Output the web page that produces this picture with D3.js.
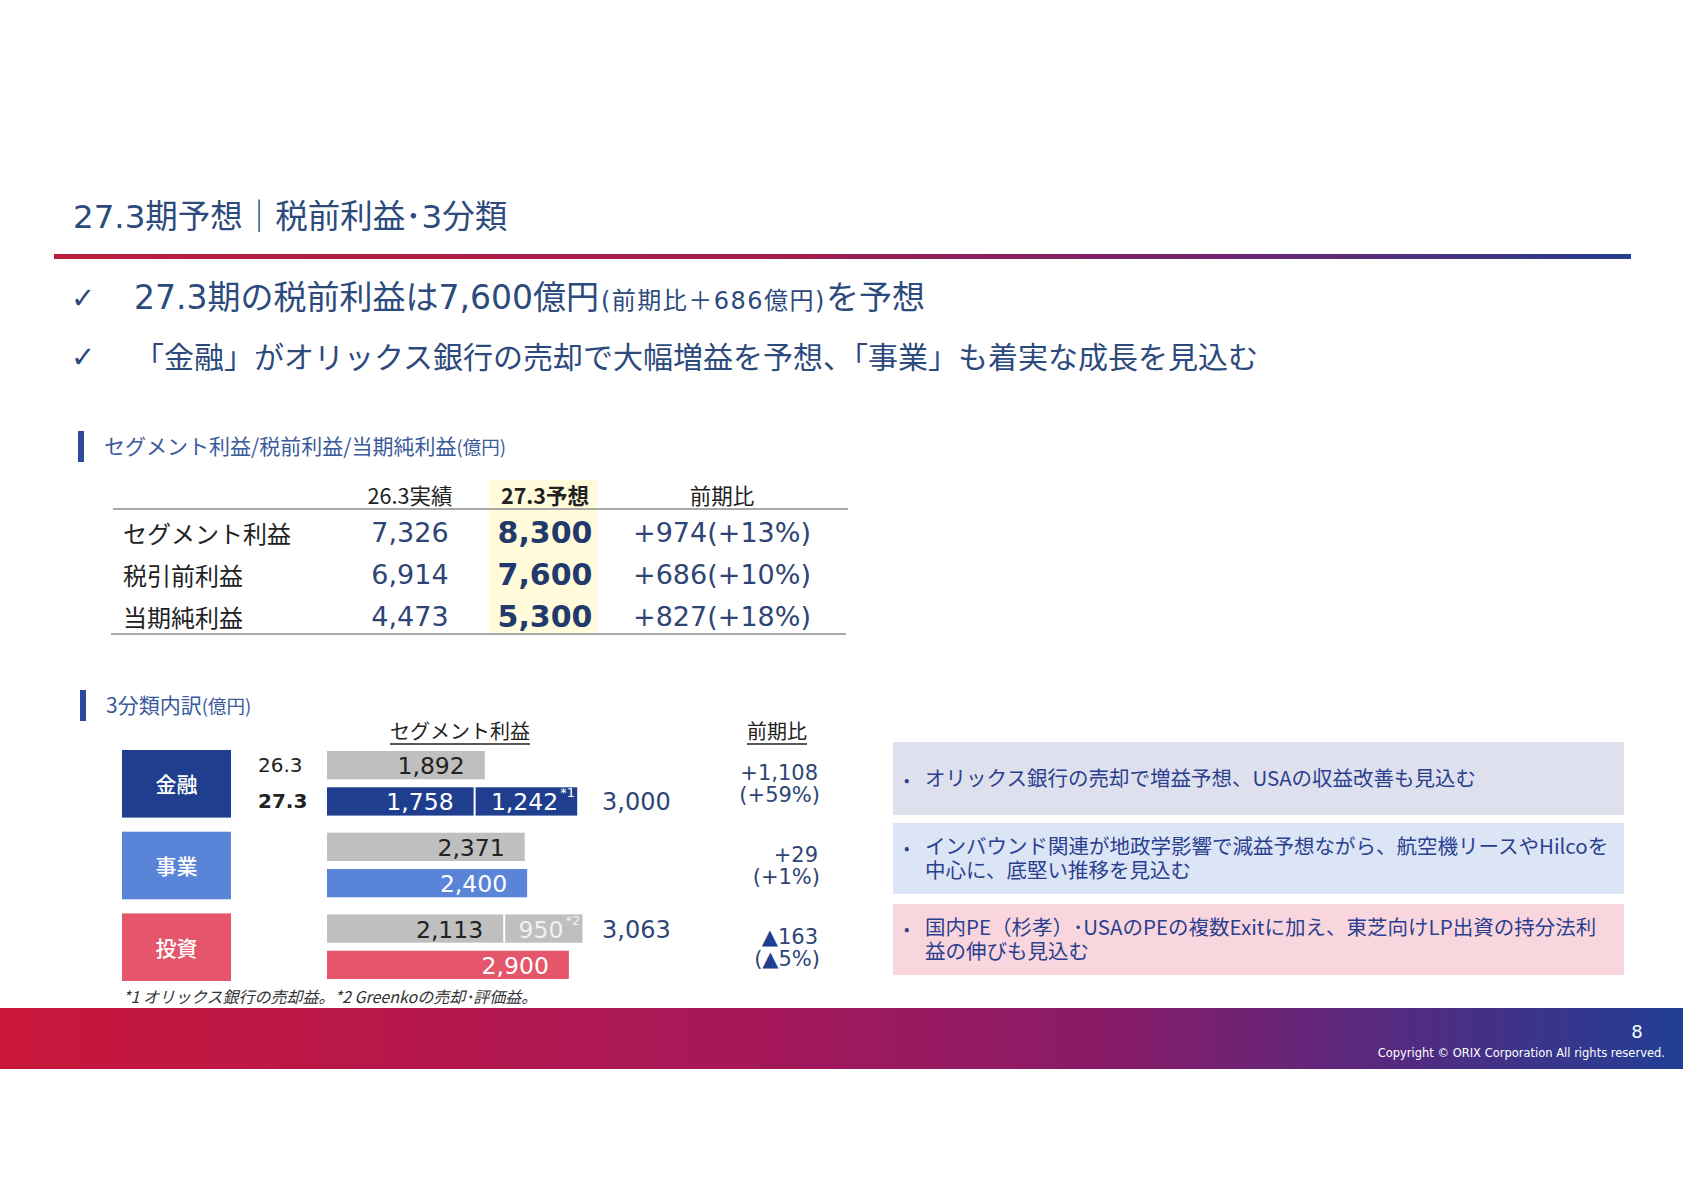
<!DOCTYPE html>
<html>
<head>
<meta charset="utf-8">
<script src="https://cdn.jsdelivr.net/npm/d3@7"></script>
<style>
  body { margin: 0; background: #fff; }
  svg { display: block; }
</style>
</head>
<body>
<div id="chart"></div>
<script>
// ---- data ----
const titleText = '27.3期予想｜税前利益･3分類';
const headlines = [
  [['27.3期の税前利益は7,600億円', 'big'], ['(前期比＋686億円)', 'small'], ['を予想', 'big']],
  [['「金融」がオリックス銀行の売却で大幅増益を予想、「事業」も着実な成長を見込む', 'big2']]
];

const tableRows = ['セグメント利益', '税引前利益', '当期純利益'];
const tableCols = ['26.3実績', '27.3予想', '前期比'];
const actual263 = [7326, 6914, 4473];
const forecast273 = [8300, 7600, 5300];
const yoyDiff = [974, 686, 827];
const yoyPct = [13, 10, 18];

const segments = ['金融', '事業', '投資'];
const years = ['26.3', '27.3'];
const seg263 = [1892, 2371, 2113];
const seg263Extra = [0, 0, 950];     // *2 Greenko
const seg273 = [1758, 2400, 2900];
const seg273Extra = [1242, 0, 0];    // *1 オリックス銀行売却益
const segYoyDiff = [1108, 29, -163];
const segYoyPct = [59, 1, -5];

const comments = [
  ['オリックス銀行の売却で増益予想、USAの収益改善も見込む'],
  ['インバウンド関連が地政学影響で減益予想ながら、航空機リースやHilcoを', '中心に、底堅い推移を見込む'],
  ['国内PE（杉孝）･USAのPEの複数Exitに加え、東芝向けLP出資の持分法利', '益の伸びも見込む']
];
const footnote = '*1 オリックス銀行の売却益。*2 Greenkoの売却･評価益。';

// ---- setup ----
const W = 1683, H = 1190;
const NUM = '"DejaVu Sans", "Noto Sans CJK JP", sans-serif';
const JP = '"Noto Sans CJK JP", "DejaVu Sans", sans-serif';
const navy = '#2c4a7c';
const valColor = '#2e4575';
const segColors = ['#1f3f8e', '#5a84d8', '#e5566b'];
const boxColors = ['#dee1ed', '#dce5f6', '#f9d6dd'];
const fmt = d3.format(',');

const svg = d3.select('#chart').append('svg')
    .attr('width', W)
    .attr('height', H)
    .style('font-family', NUM);

const defs = svg.append('defs');
const topGrad = defs.append('linearGradient').attr('id', 'topGrad');
[['0%', '#bb1e3c'], ['45%', '#a21d4c'], ['75%', '#6e2470'], ['100%', '#253f8c']]
  .forEach(s => topGrad.append('stop').attr('offset', s[0]).attr('stop-color', s[1]));
const footGrad = defs.append('linearGradient').attr('id', 'footGrad');
[['0%', '#c9173a'], ['45%', '#a5185a'], ['66%', '#881b68'], ['82%', '#57297f'], ['100%', '#213f95']]
  .forEach(s => footGrad.append('stop').attr('offset', s[0]).attr('stop-color', s[1]));

// ---- title & headlines ----
svg.append('text')
    .attr('x', 73).attr('y', 228)
    .attr('font-size', 32.5)
    .attr('fill', navy)
    .text(titleText);

svg.append('rect')
    .attr('x', 54).attr('y', 254)
    .attr('width', 1577).attr('height', 5)
    .attr('fill', 'url(#topGrad)');

const headY = [309, 368];
const partSize = {big: 33, small: 24, big2: 30};
headlines.forEach((parts, i) => {
  svg.append('text')
      .attr('x', 71).attr('y', headY[i] - 1)
      .attr('font-size', 29)
      .attr('fill', navy)
      .text('✓');
  const t = svg.append('text')
      .attr('x', 134).attr('y', headY[i])
      .attr('fill', navy);
  parts.forEach(p => {
    t.append('tspan')
        .attr('font-size', partSize[p[1]])
        .attr('letter-spacing', p[1] === 'small' ? 1.5 : 0)
        .attr('dx', p[1] === 'small' ? 2 : 0)
        .text(p[0]);
  });
});

// ---- section headers ----
function sectionHeader(x, y, main, unit) {
  svg.append('rect')
      .attr('x', x).attr('y', y)
      .attr('width', 6).attr('height', 31)
      .attr('fill', '#2b4a9b');
  const t = svg.append('text')
      .attr('x', x + 26).attr('y', y + 23)
      .attr('fill', '#3a5a9c');
  t.append('tspan').attr('font-size', 21).attr('font-family', JP).text(main);
  t.append('tspan').attr('font-size', 18.5).attr('font-family', JP).text(unit);
}
sectionHeader(78, 431, 'セグメント利益/税前利益/当期純利益', '(億円)');
sectionHeader(80, 690, '3分類内訳', '(億円)');

// ---- summary table ----
const colX = d3.scaleOrdinal().domain(tableCols).range([410, 545, 722]);
const rowY = d3.scaleBand().domain(tableRows).range([512, 637]);

svg.append('rect')
    .attr('x', 489).attr('y', 480)
    .attr('width', 108).attr('height', 154)
    .attr('fill', '#fffbdb');

svg.selectAll('.colhead')
    .data(tableCols)
  .enter().append('text')
    .attr('class', 'colhead')
    .attr('x', d => colX(d))
    .attr('y', 494)
    .attr('text-anchor', 'middle')
    .attr('dominant-baseline', 'central')
    .attr('font-size', 21.5)
    .attr('font-family', JP)
    .attr('font-weight', (d, i) => i === 1 ? 'bold' : 'normal')
    .attr('fill', '#222')
    .text(d => d);

svg.append('line')
    .attr('x1', 113).attr('x2', 848)
    .attr('y1', 509).attr('y2', 509)
    .attr('stroke', '#a9a9a9').attr('stroke-width', 2);
svg.append('line')
    .attr('x1', 111).attr('x2', 846)
    .attr('y1', 634).attr('y2', 634)
    .attr('stroke', '#a9a9a9').attr('stroke-width', 2);

const rows = svg.selectAll('.trow')
    .data(tableRows)
  .enter().append('g')
    .attr('class', 'trow')
    .attr('transform', d => `translate(0,${rowY(d) + rowY.bandwidth() / 2})`);

rows.append('text')
    .attr('x', 123)
    .attr('dominant-baseline', 'central')
    .attr('font-size', 24)
    .attr('font-family', JP)
    .attr('fill', '#222')
    .text(d => d);

rows.append('text')
    .attr('x', colX(tableCols[0]))
    .attr('text-anchor', 'middle')
    .attr('dominant-baseline', 'central')
    .attr('font-size', 27)
    .attr('fill', valColor)
    .text((d, i) => fmt(actual263[i]));

rows.append('text')
    .attr('x', colX(tableCols[1]))
    .attr('text-anchor', 'middle')
    .attr('dominant-baseline', 'central')
    .attr('font-size', 30)
    .attr('font-weight', 'bold')
    .attr('fill', '#22396b')
    .text((d, i) => fmt(forecast273[i]));

rows.append('text')
    .attr('x', colX(tableCols[2]))
    .attr('text-anchor', 'middle')
    .attr('dominant-baseline', 'central')
    .attr('font-size', 27)
    .attr('fill', valColor)
    .text((d, i) => `+${fmt(yoyDiff[i])}(+${yoyPct[i]}%)`);

// ---- segment bars ----
const x = d3.scaleLinear().domain([0, 3000]).range([327, 577.2]);
const yGroup = d3.scaleBand().domain(segments).range([750, 980]).paddingInner(0.185);
const yYear = d3.scaleBand().domain(years).range([1, yGroup.bandwidth() - 1]).paddingInner(0.22);

function underlined(text, cx, y) {
  const t = svg.append('text')
      .attr('x', cx).attr('y', y)
      .attr('text-anchor', 'middle')
      .attr('font-size', 20)
      .attr('font-family', JP)
      .attr('fill', '#222')
      .text(text);
  const w = t.node().getComputedTextLength();
  svg.append('line')
      .attr('x1', cx - w / 2).attr('x2', cx + w / 2)
      .attr('y1', y + 5).attr('y2', y + 5)
      .attr('stroke', '#222').attr('stroke-width', 1.3);
}
underlined('セグメント利益', 460, 739);
underlined('前期比', 777, 739);

const groups = svg.selectAll('.seg')
    .data(segments)
  .enter().append('g')
    .attr('class', 'seg')
    .attr('transform', d => `translate(0,${yGroup(d)})`);

groups.append('rect')
    .attr('x', 122)
    .attr('width', 109)
    .attr('height', yGroup.bandwidth() + 1)
    .attr('fill', (d, i) => segColors[i]);

groups.append('text')
    .attr('x', 176.5)
    .attr('y', yGroup.bandwidth() / 2)
    .attr('text-anchor', 'middle')
    .attr('dominant-baseline', 'central')
    .attr('font-size', 21)
    .attr('font-family', JP)
    .attr('font-weight', 500)
    .attr('fill', '#fff')
    .text(d => d);

// year labels on the first group only
groups.filter((d, i) => i === 0).selectAll('.yr')
    .data(years)
  .enter().append('text')
    .attr('class', 'yr')
    .attr('x', 258)
    .attr('y', d => yYear(d) + yYear.bandwidth() / 2)
    .attr('dominant-baseline', 'central')
    .attr('font-size', 20)
    .attr('font-weight', (d, i) => i === 1 ? 'bold' : 'normal')
    .attr('fill', '#222')
    .text(d => d);

groups.each(function(seg, i) {
  const g = d3.select(this);
  const bars = [
    {year: years[0], base: seg263[i], extra: seg263Extra[i], color: '#bfbfbf', text: '#222', extraText: '#f2f2f2', mark: '*2'},
    {year: years[1], base: seg273[i], extra: seg273Extra[i], color: segColors[i], text: '#fff', extraText: '#fff', mark: '*1'}
  ];
  bars.forEach(b => {
    const by = yYear(b.year), bh = yYear.bandwidth();
    const cy = by + bh / 2;
    g.append('rect')
        .attr('x', x(0)).attr('y', by)
        .attr('width', x(b.base) - x(0)).attr('height', bh)
        .attr('fill', b.color);
    g.append('text')
        .attr('x', x(b.base) - 20)
        .attr('y', cy + 1)
        .attr('text-anchor', 'end')
        .attr('dominant-baseline', 'central')
        .attr('font-size', 23.5)
        .attr('fill', b.text)
        .text(fmt(b.base));
    if (b.extra > 0) {
      const x0 = x(b.base), x1 = x(b.base + b.extra);
      g.append('rect')
          .attr('x', x0 + 2).attr('y', by)
          .attr('width', x1 - x0 - 2).attr('height', bh)
          .attr('fill', b.color);
      g.append('text')
          .attr('x', x1 - 19)
          .attr('y', cy + 1)
          .attr('text-anchor', 'end')
          .attr('dominant-baseline', 'central')
          .attr('font-size', 23.5)
          .attr('fill', b.extraText)
          .text(fmt(b.extra));
      g.append('text')
          .attr('x', x1 - 17)
          .attr('y', cy - 4)
          .attr('font-size', 13)
          .attr('fill', b.extraText)
          .text(b.mark);
      g.append('text')
          .attr('x', 602)
          .attr('y', cy + 1)
          .attr('dominant-baseline', 'central')
          .attr('font-size', 24)
          .attr('fill', valColor)
          .text(fmt(b.base + b.extra));
    }
  });

  // year-on-year column, two lines in one text element
  const c = yGroup.bandwidth() / 2;
  const sign = v => v >= 0 ? '+' : '▲';
  const yoyT = g.append('text')
      .attr('text-anchor', 'end')
      .attr('font-size', 21)
      .attr('fill', valColor);
  const l1 = yoyT.append('tspan').attr('x', 818).attr('y', c - 3);
  l1.append('tspan').attr('fill', segYoyDiff[i] < 0 ? '#1f3f8e' : valColor).text(sign(segYoyDiff[i]));
  l1.append('tspan').text(fmt(Math.abs(segYoyDiff[i])));
  const l2 = yoyT.append('tspan').attr('x', 820).attr('y', c + 19);
  l2.append('tspan').text('(');
  l2.append('tspan').attr('fill', segYoyPct[i] < 0 ? '#1f3f8e' : valColor).text(sign(segYoyPct[i]));
  l2.append('tspan').text(`${Math.abs(segYoyPct[i])}%)`);
});

// ---- comment boxes ----
const boxY = [742, 823, 904];
const boxH = [73, 71, 71];
comments.forEach((lines, i) => {
  svg.append('rect')
      .attr('x', 893).attr('y', boxY[i])
      .attr('width', 731).attr('height', boxH[i])
      .attr('fill', boxColors[i]);
  const cy = boxY[i] + boxH[i] / 2;
  const lh = 24;
  const y0 = cy - (lines.length - 1) * lh / 2;
  const t = svg.append('text')
      .attr('font-size', 20.5)
      .attr('font-family', JP)
      .attr('fill', '#2b3f8f');
  t.append('tspan')
      .attr('x', 904).attr('y', y0 + 7)
      .attr('font-size', 16)
      .text('•');
  lines.forEach((ln, k) => {
    t.append('tspan')
        .attr('x', 925).attr('y', y0 + k * lh + 7)
        .text(ln);
  });
});

// ---- footnote ----
svg.append('text')
    .attr('x', 123).attr('y', 996)
    .attr('dominant-baseline', 'central')
    .attr('font-size', 16)
    .attr('font-style', 'italic')
    .attr('font-family', JP)
    .attr('fill', '#333')
    .text(footnote);

// ---- footer ----
svg.append('rect')
    .attr('x', 0).attr('y', 1008)
    .attr('width', W).attr('height', 61)
    .attr('fill', 'url(#footGrad)');
svg.append('text')
    .attr('x', 1637).attr('y', 1031)
    .attr('text-anchor', 'middle')
    .attr('dominant-baseline', 'central')
    .attr('font-size', 18)
    .attr('fill', '#fff')
    .text('8');
svg.append('text')
    .attr('x', 1665).attr('y', 1057)
    .attr('text-anchor', 'end')
    .attr('font-size', 11.5)
    .attr('fill', '#fff')
    .text('Copyright © ORIX Corporation All rights reserved.');
</script>
</body>
</html>
